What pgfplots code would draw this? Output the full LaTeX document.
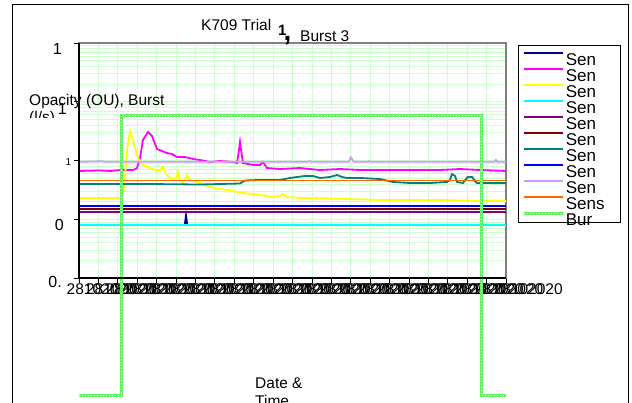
\documentclass[border=0pt]{standalone}
\usepackage{fontspec}
\setmainfont{Liberation Sans}
\usepackage{pgfplots}
\pgfplotsset{compat=1.18}
\definecolor{gridg}{RGB}{204,255,204}
\definecolor{sNavy}{RGB}{0,0,128}
\definecolor{sMag}{RGB}{255,0,255}
\definecolor{sYel}{RGB}{255,255,0}
\definecolor{sCyan}{RGB}{0,255,255}
\definecolor{sPur}{RGB}{128,0,128}
\definecolor{sMar}{RGB}{128,0,0}
\definecolor{sTeal}{RGB}{0,128,128}
\definecolor{sBlue}{RGB}{0,0,255}
\definecolor{sLav}{RGB}{204,153,255}
\definecolor{sOra}{RGB}{255,102,0}
\definecolor{sBur}{RGB}{100,240,100}
\definecolor{plotgray}{RGB}{128,128,128}
\begin{document}
\begin{tikzpicture}
\useasboundingbox (0pt,0pt) rectangle (632pt,403pt);
\clip (0pt,0pt) rectangle (632pt,403pt);
% chart frame
\draw[line width=1pt] (12.5pt,398.5pt) rectangle (628pt,-10pt);
% legend box
\draw[line width=1pt, fill=white] (518pt,357pt) rectangle (620pt,180pt);
\begin{axis}[
  at={(79pt,125pt)}, anchor=south west,
  scale only axis, width=427pt, height=235pt,
  xmin=0, xmax=22, ymode=log, ymin=0.01, ymax=100,
  clip=false,
  xtick={0,1,2,3,4,5,6,7,8,9,10,11,12,13,14,15,16,17,18,19,20,21,22},
  xticklabel={28102020},
  xticklabel style={anchor=north west, inner sep=0pt, xshift=-12.5pt, font=\fontsize{15.5}{15.5}\selectfont},
  ytick={0.01,0.1,1,10,100},
  yticklabels={},
  minor ytick={0.02,0.03,0.04,0.05,0.06,0.07,0.08,0.09,0.2,0.3,0.4,0.5,0.6,0.7,0.8,0.9,2,3,4,5,6,7,8,9,20,30,40,50,60,70,80,90},
  grid=both,
  major grid style={draw=gridg, line width=0.8pt},
  minor grid style={draw=gridg, line width=0.6pt},
  tick align=outside, xtick pos=lower, ytick pos=left,
  major tick length=5pt, minor tick length=0pt,
  tick style={black, line width=0.8pt},
  axis line style={draw=plotgray, line width=1.2pt},
  every axis plot/.append style={line width=1.8pt},
  legend style={at={(rel axis cs:1.03747,0.96170)}, anchor=north west,
    draw=none, fill=none, inner sep=0pt, row sep=0pt, column sep=2pt,
    font=\fontsize{17}{17}\selectfont,
    nodes={inner sep=0pt, text height=13pt, text depth=3pt},
    cells={anchor=west}},
  legend image code/.code={\draw[#1] (0pt,7pt) -- (39pt,7pt);},
]
\addplot[sNavy] coordinates {(0,0.0798) (5.45,0.0798) (5.513,0.115) (5.58,0.0798) (22,0.0798)};
\addlegendentry{Sen}
\addplot[sMag] coordinates {(0,0.663) (1.082,0.676) (1.597,0.663) (2.164,0.689) (2.782,0.689) (2.988,0.745) (3.143,1.103) (3.297,2.233) (3.555,3.056) (3.761,2.612) (4.019,1.569) (4.276,1.451) (4.534,1.342) (4.792,1.290) (5.049,1.147) (5.461,1.147) (5.874,1.061) (6.234,1.020) (6.749,0.943) (7.265,0.981) (7.934,0.943) (8.140,0.907) (8.243,1.509) (8.295,2.065) (8.347,1.509) (8.450,0.907) (8.965,0.838) (9.326,0.838) (9.480,0.943) (9.583,0.838) (9.686,0.745) (10.356,0.717) (11.386,0.745) (12.417,0.689) (13.447,0.717) (14.478,0.689) (15.508,0.689) (16.539,0.689) (18.600,0.689) (19.630,0.717) (20.661,0.689) (22,0.663)};
\addlegendentry{Sen}
\addplot[sYel] coordinates {(0,0.230) (1.082,0.230) (2.164,0.230) (2.318,0.3147) (2.473,1.509) (2.628,3.178) (2.782,2.233) (2.988,1.240) (3.143,0.943) (3.400,0.806) (3.658,0.745) (3.916,0.689) (4.173,0.689) (4.328,0.775) (4.431,0.637) (4.534,0.566) (4.843,0.466) (4.998,0.504) (5.101,0.637) (5.204,0.466) (5.358,0.414) (5.564,0.566) (5.719,0.466) (5.874,0.448) (6.234,0.414) (6.749,0.354) (7.265,0.327) (7.625,0.3147) (8.450,0.280) (9.326,0.259) (9.995,0.239) (10.356,0.249) (10.510,0.269) (10.717,0.239) (11.386,0.230) (12.056,0.230) (13.808,0.221) (15.508,0.213) (16.539,0.213) (18.600,0.213) (20.661,0.2045) (22,0.2045)};
\addlegendentry{Sen}
\addplot[sCyan] coordinates {(0,0.0808) (22,0.0808)};
\addlegendentry{Sen}
\addplot[sPur] coordinates {(0,0.1344) (22,0.1344)};
\addlegendentry{Sen}
\addplot[sMar] coordinates {(0,0.1494) (22,0.1494)};
\addlegendentry{Sen}
\addplot[sTeal] coordinates {(0,0.398) (3.658,0.398) (6.234,0.390) (8.295,0.406) (8.553,0.457) (9.326,0.466) (10.356,0.466) (10.871,0.504) (11.232,0.524) (11.644,0.545) (12.056,0.545) (12.417,0.504) (12.932,0.524) (13.293,0.566) (13.550,0.524) (13.808,0.504) (14.478,0.504) (15.508,0.484) (16.178,0.431) (17.054,0.414) (18.084,0.414) (18.960,0.431) (19.115,0.466) (19.218,0.589) (19.372,0.545) (19.475,0.431) (19.784,0.414) (19.939,0.484) (20.042,0.524) (20.248,0.524) (20.403,0.448) (20.506,0.414) (20.661,0.414) (21.176,0.414) (22,0.414)};
\addlegendentry{Sen}
\addplot[sBlue] coordinates {(0,0.168) (22,0.168)};
\addlegendentry{Sen}
\addplot[sLav] coordinates {(0,0.95) (1.2,0.97) (1.3,0.95) (11.7,0.95) (11.9,0.97) (12.0,0.95) (13.9,0.95) (14.01,1.13) (14.15,0.95) (14.9,0.95) (14.95,0.98) (15.0,0.95) (21.4,0.95) (21.48,1.02) (21.56,0.95) (22,0.95)};
\addlegendentry{Sen}
\addplot[sOra] coordinates {(0,0.4566) (22,0.4566)};
\addlegendentry{Sens}
\addplot[sBur, line width=2.6pt, postaction={draw=white, line width=0.8pt, dash pattern=on 0.8pt off 2.2pt}] coordinates {(0,0.0001) (2.19,0.0001) (2.19,5.8) (20.73,5.8) (20.73,0.0001) (22,0.0001)};
\addlegendentry{Bur}
\draw[black, line width=1.2pt] (rel axis cs:0,1) -- (rel axis cs:0,0) -- (rel axis cs:1,0);
\end{axis}
% title
\node[anchor=base west, inner sep=0pt, font=\fontsize{15.5}{15.5}\selectfont] at (201pt,372.4pt) {K709 Trial};
\node[anchor=base west, inner sep=0pt, font=\fontsize{15}{15}\selectfont\bfseries] at (278pt,367pt) {1};
\node[anchor=base west, inner sep=0pt, font=\fontsize{28}{28}\selectfont\bfseries] at (283.5pt,362pt) {,};
\node[anchor=base west, inner sep=0pt, font=\fontsize{15.5}{15.5}\selectfont] at (300pt,361pt) {Burst 3};
% y axis title
\node[anchor=base west, inner sep=0pt, font=\fontsize{15.5}{15.5}\selectfont] at (29pt,297pt) {Opacity (OU), Burst};
\begin{scope}
\clip (0pt,285.5pt) rectangle (200pt,403pt);
\node[anchor=base west, inner sep=0pt, font=\fontsize{15.5}{15.5}\selectfont] at (29pt,280pt) {(l/s)};
\end{scope}
% y tick labels
\node[anchor=base east, inner sep=0pt, font=\fontsize{16}{16}\selectfont] at (62pt,348pt) {1};
\node[anchor=base east, inner sep=0pt, font=\fontsize{16}{16}\selectfont] at (67pt,288pt) {1};
\node[anchor=base east, inner sep=0pt, font=\fontsize{10}{10}\selectfont] at (71.5pt,237pt) {1};
\node[anchor=base east, inner sep=0pt, font=\fontsize{16}{16}\selectfont] at (64pt,172pt) {0};
\node[anchor=base east, inner sep=0pt, font=\fontsize{16}{16}\selectfont] at (62pt,115pt) {0.};
% x axis title
\node[anchor=base west, inner sep=0pt, font=\fontsize{15.5}{15.5}\selectfont] at (255pt,14pt) {Date \&};
\node[anchor=base west, inner sep=0pt, font=\fontsize{15.5}{15.5}\selectfont] at (255pt,-3.5pt) {Time};
\end{tikzpicture}
\end{document}
